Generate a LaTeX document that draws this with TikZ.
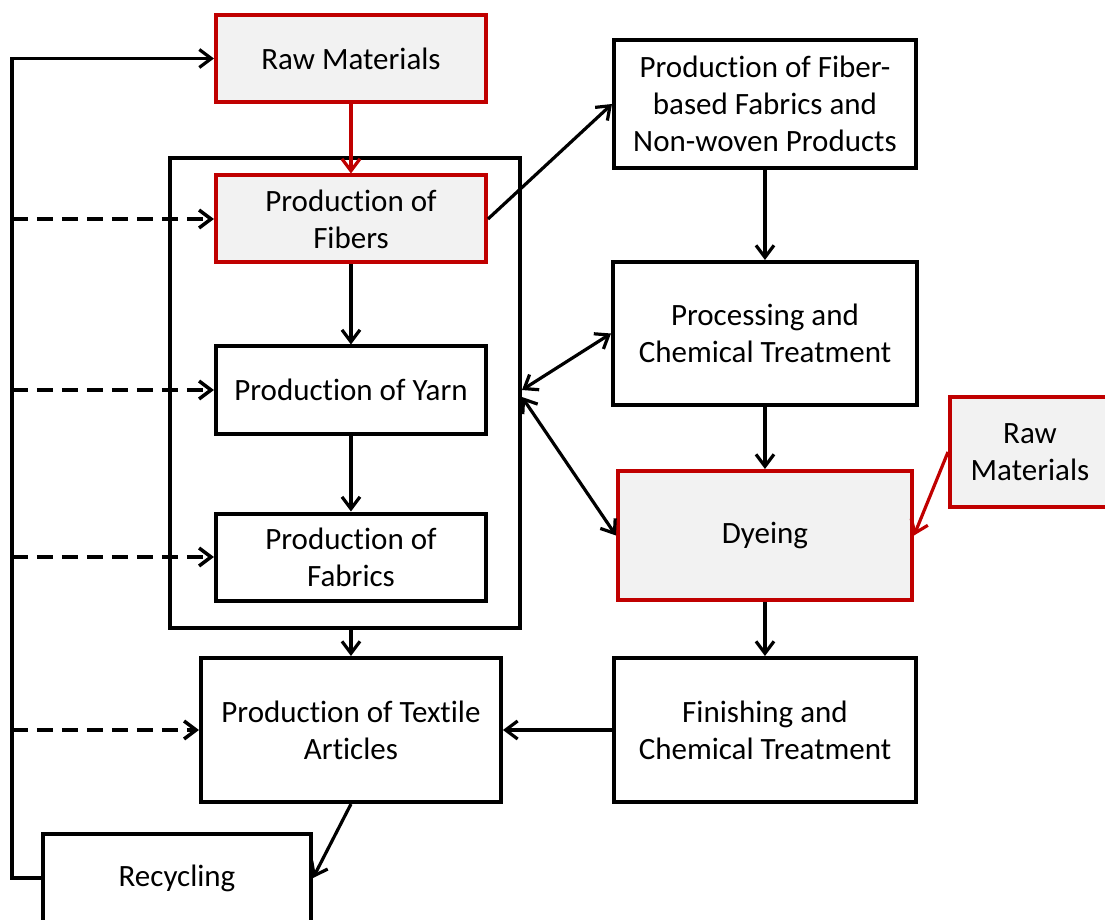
\documentclass[tikz,border=0pt]{standalone}
\usepackage{fontspec}
\setmainfont{Carlito}[Ligatures=CommonOff]
\usetikzlibrary{positioning,arrows.meta}
\definecolor{boxred}{RGB}{192,0,0}
\definecolor{boxgray}{RGB}{242,242,242}

\begin{document}
\begin{tikzpicture}[>={Straight Barb[length=6pt,width=9pt]},
    stage/.style={draw, rectangle, line width=2pt, align=center, inner sep=0pt,
        font=\fontsize{15.5}{18.5}\selectfont, minimum width=135pt, minimum height=43.5pt},
    redstage/.style={stage, draw=boxred, fill=boxgray},
    flowline/.style={->, line width=1.6pt},
    feedline/.style={->, line width=1.75pt, dash pattern=on 8pt off 4.5pt}]
        \useasboundingbox (-175.5pt,29.25pt) rectangle (377pt,-430.75pt);
        % Nodes
        \node[redstage] (raw1) at (0,0) {Raw Materials};
        \node[draw, line width=2pt, minimum width=175pt, minimum height=235pt, below of=raw1, node distance=167.25pt, xshift=-3pt] (stages) {};
        \node[redstage, below of=raw1, node distance=80.25pt] (fibers) {Production of\\Fibers};
        \node[stage, below of=fibers, node distance=85.5pt] (yarn) {Production of Yarn};
        \node[stage, below of=yarn, node distance=83.5pt] (fabrics) {Production of\\Fabrics};
        \node[stage, below of=fabrics, node distance=86.5pt, minimum width=150pt, minimum height=72pt] (textile) {Production of Textile\\Articles};
        \node[stage, below of=textile, node distance=74pt, xshift=-87pt, minimum width=134pt, minimum height=44pt] (recyc) {Recycling};
        \node[stage, right of=raw1, node distance=207pt, yshift=-22.75pt, minimum width=151pt, minimum height=64pt] (fiber) {Production of Fiber-\\based Fabrics and\\Non-woven Products};
        \node[stage, below of=fiber, node distance=114.75pt, minimum width=152pt, minimum height=71.5pt] (proc) {Processing and\\Chemical Treatment};
        \node[redstage, below of=proc, node distance=101pt, minimum width=147pt, minimum height=64.5pt] (dye) {Dyeing};
        \node[stage, below of=dye, node distance=97.25pt, minimum width=151pt, minimum height=72pt] (finish) {Finishing and\\Chemical Treatment};
        \node[redstage, right of=dye, node distance=132.5pt, yshift=41.75pt, minimum width=80pt, minimum height=55pt] (raw2) {Raw\\Materials};
        \coordinate[left of=raw1, node distance=169.5pt] (rail);
        % Arrows
        \draw[flowline, draw=boxred] (raw1) -- (fibers);
        \draw[flowline] (fibers) -- (yarn);
        \draw[flowline] (yarn) -- (fabrics);
        \draw[flowline] (stages.south -| fabrics) -- (fabrics |- textile.north);
        \draw[flowline] (fibers.east) -- (fiber.west);
        \draw[flowline] (fiber) -- (proc);
        \draw[flowline] (proc) -- (dye);
        \draw[flowline] (dye) -- (finish);
        \draw[flowline] (finish) -- (textile);
        \draw[flowline, <->] ([yshift=1.5pt]stages.east) -- (proc.west);
        \draw[flowline, <->] ([yshift=-2pt]stages.east) -- (dye.west);
        \draw[flowline, draw=boxred] (raw2.west) -- (dye.east);
        \draw[flowline] (textile.south) -- (recyc.east);
        % Recycling loop
        \draw[flowline] (recyc.west) -- (recyc.west -| rail) |- (raw1.west);
        \draw[feedline] (fibers.west -| rail) -- (fibers.west);
        \draw[feedline] (yarn.west -| rail) -- (yarn.west);
        \draw[feedline] (fabrics.west -| rail) -- (fabrics.west);
        \draw[feedline] (textile.west -| rail) -- (textile.west);
    \end{tikzpicture}
\end{document}
